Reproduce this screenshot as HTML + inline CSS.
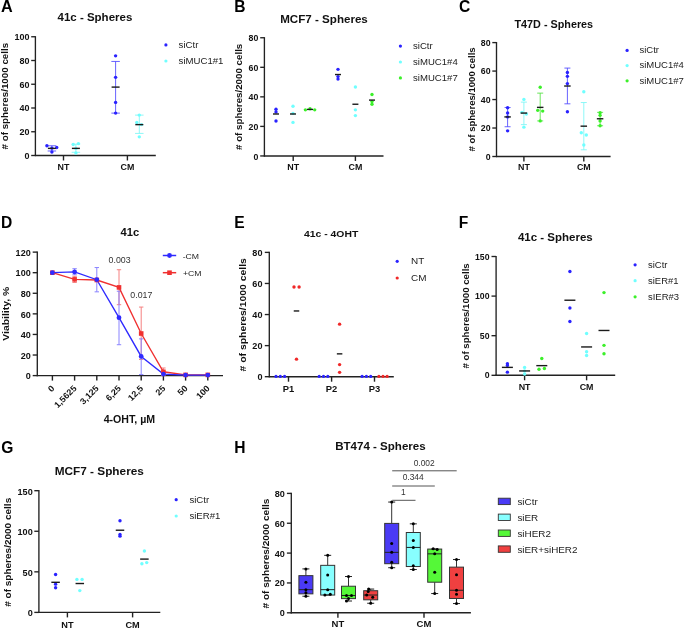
<!DOCTYPE html>
<html><head><meta charset="utf-8"><style>
html,body{margin:0;padding:0;background:#fff;}
svg{display:block;will-change:transform;filter:blur(0.3px);}
text{font-family:"Liberation Sans",sans-serif;}
</style></head><body>
<svg width="685" height="629" viewBox="0 0 685 629">
<rect width="685" height="629" fill="#fff"/>
<text transform="translate(1.1 12.2) scale(1.04 1)" font-size="15.6" font-weight="bold" text-anchor="start" fill="#000">A</text>
<text transform="translate(57.5 20.8)" font-size="11.5" font-weight="bold" text-anchor="start" fill="#111">41c - Spheres</text>
<line x1="35.4" y1="36.15" x2="35.4" y2="156.1" stroke="#222" stroke-width="1.35"/>
<line x1="31.2" y1="155.5" x2="35.4" y2="155.5" stroke="#222" stroke-width="1.35"/>
<text transform="translate(29.4 158.98) scale(1 0.97)" font-size="9" font-weight="bold" text-anchor="end" fill="#111">0</text>
<line x1="31.2" y1="131.75" x2="35.4" y2="131.75" stroke="#222" stroke-width="1.35"/>
<text transform="translate(29.4 135.23) scale(1 0.97)" font-size="9" font-weight="bold" text-anchor="end" fill="#111">20</text>
<line x1="31.2" y1="108" x2="35.4" y2="108" stroke="#222" stroke-width="1.35"/>
<text transform="translate(29.4 111.48) scale(1 0.97)" font-size="9" font-weight="bold" text-anchor="end" fill="#111">40</text>
<line x1="31.2" y1="84.25" x2="35.4" y2="84.25" stroke="#222" stroke-width="1.35"/>
<text transform="translate(29.4 87.73) scale(1 0.97)" font-size="9" font-weight="bold" text-anchor="end" fill="#111">60</text>
<line x1="31.2" y1="60.5" x2="35.4" y2="60.5" stroke="#222" stroke-width="1.35"/>
<text transform="translate(29.4 63.98) scale(1 0.97)" font-size="9" font-weight="bold" text-anchor="end" fill="#111">80</text>
<line x1="31.2" y1="36.75" x2="35.4" y2="36.75" stroke="#222" stroke-width="1.35"/>
<text transform="translate(29.4 40.23) scale(1 0.97)" font-size="9" font-weight="bold" text-anchor="end" fill="#111">100</text>
<line x1="34.8" y1="155.5" x2="155.8" y2="155.5" stroke="#222" stroke-width="1.4"/>
<line x1="63.5" y1="155.5" x2="63.5" y2="160.5" stroke="#222" stroke-width="1.4"/>
<text transform="translate(63.5 170.3)" font-size="8.9" font-weight="bold" text-anchor="middle" fill="#111">NT</text>
<line x1="127.4" y1="155.5" x2="127.4" y2="160.5" stroke="#222" stroke-width="1.4"/>
<text transform="translate(127.4 170.3)" font-size="8.9" font-weight="bold" text-anchor="middle" fill="#111">CM</text>
<text transform="translate(8.4 96.15) rotate(-90) scale(1 0.88)" font-size="9.8" font-weight="bold" text-anchor="middle" fill="#111"># of spheres/1000 cells</text>
<circle cx="165.9" cy="44.9" r="1.6" fill="#2a22ff"/>
<text transform="translate(178.6 47.7) scale(1 0.95)" font-size="9.63" font-weight="normal" text-anchor="start" fill="#222">siCtr</text>
<circle cx="165.9" cy="61" r="1.6" fill="#70ffff"/>
<text transform="translate(178.6 63.8) scale(1 0.95)" font-size="9.63" font-weight="normal" text-anchor="start" fill="#222">siMUC1#1</text>
<line x1="51.9" y1="145.76" x2="51.9" y2="150.99" stroke="#4d47ff" stroke-width="0.85"/>
<line x1="47.65" y1="145.76" x2="56.15" y2="145.76" stroke="#4d47ff" stroke-width="0.85"/>
<line x1="47.65" y1="150.99" x2="56.15" y2="150.99" stroke="#4d47ff" stroke-width="0.85"/>
<circle cx="46.9" cy="145.76" r="1.7" fill="#2a22ff"/>
<circle cx="51.9" cy="148.14" r="1.7" fill="#2a22ff"/>
<circle cx="56.7" cy="147.54" r="1.7" fill="#2a22ff"/>
<circle cx="51.9" cy="151.94" r="1.7" fill="#2a22ff"/>
<line x1="47.9" y1="148.38" x2="55.9" y2="148.38" stroke="#1a1a1a" stroke-width="1.4"/>
<line x1="75.9" y1="144.22" x2="75.9" y2="152.29" stroke="#7af5f5" stroke-width="0.85"/>
<line x1="71.65" y1="144.22" x2="80.15" y2="144.22" stroke="#7af5f5" stroke-width="0.85"/>
<line x1="71.65" y1="152.29" x2="80.15" y2="152.29" stroke="#7af5f5" stroke-width="0.85"/>
<circle cx="73.2" cy="144.46" r="1.7" fill="#70ffff"/>
<circle cx="78.4" cy="143.62" r="1.7" fill="#70ffff"/>
<circle cx="75.9" cy="148.38" r="1.7" fill="#70ffff"/>
<circle cx="75.9" cy="153.01" r="1.7" fill="#70ffff"/>
<line x1="71.9" y1="148.38" x2="79.9" y2="148.38" stroke="#1a1a1a" stroke-width="1.4"/>
<line x1="115.6" y1="61.45" x2="115.6" y2="113.11" stroke="#4d47ff" stroke-width="0.85"/>
<line x1="111.35" y1="61.45" x2="119.85" y2="61.45" stroke="#4d47ff" stroke-width="0.85"/>
<line x1="111.35" y1="113.11" x2="119.85" y2="113.11" stroke="#4d47ff" stroke-width="0.85"/>
<circle cx="115.6" cy="55.87" r="1.7" fill="#2a22ff"/>
<circle cx="115.6" cy="77.36" r="1.7" fill="#2a22ff"/>
<circle cx="115.6" cy="102.42" r="1.7" fill="#2a22ff"/>
<circle cx="115.6" cy="113.11" r="1.7" fill="#2a22ff"/>
<line x1="111.6" y1="87.1" x2="119.6" y2="87.1" stroke="#1a1a1a" stroke-width="1.4"/>
<line x1="139.3" y1="115.12" x2="139.3" y2="133.41" stroke="#7af5f5" stroke-width="0.85"/>
<line x1="135.05" y1="115.12" x2="143.55" y2="115.12" stroke="#7af5f5" stroke-width="0.85"/>
<line x1="135.05" y1="133.41" x2="143.55" y2="133.41" stroke="#7af5f5" stroke-width="0.85"/>
<circle cx="139.3" cy="115.12" r="1.7" fill="#70ffff"/>
<circle cx="136.8" cy="122.49" r="1.7" fill="#70ffff"/>
<circle cx="141.5" cy="124.62" r="1.7" fill="#70ffff"/>
<circle cx="139.3" cy="136.86" r="1.7" fill="#70ffff"/>
<line x1="135.3" y1="124.62" x2="143.3" y2="124.62" stroke="#1a1a1a" stroke-width="1.4"/>
<text transform="translate(234.16 12)" font-size="15.6" font-weight="bold" text-anchor="start" fill="#000">B</text>
<text transform="translate(280.2 22.5)" font-size="11.6" font-weight="bold" text-anchor="start" fill="#111">MCF7 - Spheres</text>
<line x1="264.4" y1="37.15" x2="264.4" y2="156.55" stroke="#222" stroke-width="1.35"/>
<line x1="260.2" y1="155.95" x2="264.4" y2="155.95" stroke="#222" stroke-width="1.35"/>
<text transform="translate(258.4 159.56) scale(1 1.05)" font-size="8.8" font-weight="bold" text-anchor="end" fill="#111">0</text>
<line x1="260.2" y1="126.4" x2="264.4" y2="126.4" stroke="#222" stroke-width="1.35"/>
<text transform="translate(258.4 130.01) scale(1 1.05)" font-size="8.8" font-weight="bold" text-anchor="end" fill="#111">20</text>
<line x1="260.2" y1="96.85" x2="264.4" y2="96.85" stroke="#222" stroke-width="1.35"/>
<text transform="translate(258.4 100.46) scale(1 1.05)" font-size="8.8" font-weight="bold" text-anchor="end" fill="#111">40</text>
<line x1="260.2" y1="67.3" x2="264.4" y2="67.3" stroke="#222" stroke-width="1.35"/>
<text transform="translate(258.4 70.91) scale(1 1.05)" font-size="8.8" font-weight="bold" text-anchor="end" fill="#111">60</text>
<line x1="260.2" y1="37.75" x2="264.4" y2="37.75" stroke="#222" stroke-width="1.35"/>
<text transform="translate(258.4 41.36) scale(1 1.05)" font-size="8.8" font-weight="bold" text-anchor="end" fill="#111">80</text>
<line x1="263.8" y1="155.95" x2="383.5" y2="155.95" stroke="#222" stroke-width="1.4"/>
<line x1="293.2" y1="155.95" x2="293.2" y2="160.95" stroke="#222" stroke-width="1.4"/>
<text transform="translate(293.2 170.3)" font-size="8.9" font-weight="bold" text-anchor="middle" fill="#111">NT</text>
<line x1="355.4" y1="155.95" x2="355.4" y2="160.95" stroke="#222" stroke-width="1.4"/>
<text transform="translate(355.4 170.3)" font-size="8.9" font-weight="bold" text-anchor="middle" fill="#111">CM</text>
<text transform="translate(242.1 96.85) rotate(-90) scale(1 0.88)" font-size="9.77" font-weight="bold" text-anchor="middle" fill="#111"># of spheres/2000 cells</text>
<circle cx="400.4" cy="46.1" r="1.6" fill="#2a22ff"/>
<text transform="translate(413 48.9) scale(1 0.95)" font-size="9.59" font-weight="normal" text-anchor="start" fill="#222">siCtr</text>
<circle cx="400.4" cy="62" r="1.6" fill="#70ffff"/>
<text transform="translate(413 64.8) scale(1 0.95)" font-size="9.59" font-weight="normal" text-anchor="start" fill="#222">siMUC1#4</text>
<circle cx="400.4" cy="77.9" r="1.6" fill="#3cf02a"/>
<text transform="translate(413 80.7) scale(1 0.95)" font-size="9.59" font-weight="normal" text-anchor="start" fill="#222">siMUC1#7</text>
<circle cx="276" cy="109.26" r="1.7" fill="#2a22ff"/>
<circle cx="276" cy="111.92" r="1.7" fill="#2a22ff"/>
<circle cx="276" cy="120.93" r="1.7" fill="#2a22ff"/>
<line x1="273" y1="113.99" x2="279" y2="113.99" stroke="#1a1a1a" stroke-width="1.4"/>
<circle cx="293" cy="106.31" r="1.7" fill="#70ffff"/>
<circle cx="293" cy="113.4" r="1.7" fill="#70ffff"/>
<circle cx="293" cy="122.41" r="1.7" fill="#70ffff"/>
<line x1="290" y1="113.99" x2="296" y2="113.99" stroke="#1a1a1a" stroke-width="1.4"/>
<circle cx="305.4" cy="109.85" r="1.7" fill="#3cf02a"/>
<circle cx="310" cy="108.82" r="1.7" fill="#3cf02a"/>
<circle cx="314.7" cy="109.85" r="1.7" fill="#3cf02a"/>
<line x1="307" y1="109.41" x2="313" y2="109.41" stroke="#1a1a1a" stroke-width="1.4"/>
<circle cx="338" cy="69.37" r="1.7" fill="#2a22ff"/>
<circle cx="338" cy="76.61" r="1.7" fill="#2a22ff"/>
<circle cx="338" cy="79.12" r="1.7" fill="#2a22ff"/>
<line x1="335" y1="74.54" x2="341" y2="74.54" stroke="#1a1a1a" stroke-width="1.4"/>
<circle cx="355.4" cy="86.95" r="1.7" fill="#70ffff"/>
<circle cx="355.4" cy="109.85" r="1.7" fill="#70ffff"/>
<circle cx="355.4" cy="115.61" r="1.7" fill="#70ffff"/>
<line x1="352.4" y1="104.24" x2="358.4" y2="104.24" stroke="#1a1a1a" stroke-width="1.4"/>
<circle cx="372" cy="94.49" r="1.7" fill="#3cf02a"/>
<circle cx="372" cy="101.58" r="1.7" fill="#3cf02a"/>
<circle cx="372" cy="104.24" r="1.7" fill="#3cf02a"/>
<line x1="369" y1="100.1" x2="375" y2="100.1" stroke="#1a1a1a" stroke-width="1.4"/>
<text transform="translate(458.9 12)" font-size="15.6" font-weight="bold" text-anchor="start" fill="#000">C</text>
<text transform="translate(514.5 27.6)" font-size="10.8" font-weight="bold" text-anchor="start" fill="#111">T47D - Spheres</text>
<line x1="496.5" y1="42" x2="496.5" y2="157.1" stroke="#222" stroke-width="1.35"/>
<line x1="492.3" y1="156.5" x2="496.5" y2="156.5" stroke="#222" stroke-width="1.35"/>
<text transform="translate(490.5 159.83)" font-size="8.75" font-weight="bold" text-anchor="end" fill="#111">0</text>
<line x1="492.3" y1="128.02" x2="496.5" y2="128.02" stroke="#222" stroke-width="1.35"/>
<text transform="translate(490.5 131.36)" font-size="8.75" font-weight="bold" text-anchor="end" fill="#111">20</text>
<line x1="492.3" y1="99.55" x2="496.5" y2="99.55" stroke="#222" stroke-width="1.35"/>
<text transform="translate(490.5 102.88)" font-size="8.75" font-weight="bold" text-anchor="end" fill="#111">40</text>
<line x1="492.3" y1="71.07" x2="496.5" y2="71.07" stroke="#222" stroke-width="1.35"/>
<text transform="translate(490.5 74.4)" font-size="8.75" font-weight="bold" text-anchor="end" fill="#111">60</text>
<line x1="492.3" y1="42.6" x2="496.5" y2="42.6" stroke="#222" stroke-width="1.35"/>
<text transform="translate(490.5 45.93)" font-size="8.75" font-weight="bold" text-anchor="end" fill="#111">80</text>
<line x1="495.9" y1="156.5" x2="610.6" y2="156.5" stroke="#222" stroke-width="1.4"/>
<line x1="523.9" y1="156.5" x2="523.9" y2="161.5" stroke="#222" stroke-width="1.4"/>
<text transform="translate(523.9 170.3)" font-size="8.9" font-weight="bold" text-anchor="middle" fill="#111">NT</text>
<line x1="583.8" y1="156.5" x2="583.8" y2="161.5" stroke="#222" stroke-width="1.4"/>
<text transform="translate(583.8 170.3)" font-size="8.9" font-weight="bold" text-anchor="middle" fill="#111">CM</text>
<text transform="translate(475.1 99.45) rotate(-90) scale(1 0.88)" font-size="9.57" font-weight="bold" text-anchor="middle" fill="#111"># of spheres/1000 cells</text>
<circle cx="627.1" cy="50.4" r="1.6" fill="#2a22ff"/>
<text transform="translate(639.4 53.1) scale(1 0.95)" font-size="9.53" font-weight="normal" text-anchor="start" fill="#222">siCtr</text>
<circle cx="627.1" cy="65.6" r="1.6" fill="#70ffff"/>
<text transform="translate(639.4 68.3) scale(1 0.95)" font-size="9.53" font-weight="normal" text-anchor="start" fill="#222">siMUC1#4</text>
<circle cx="627.1" cy="80.8" r="1.6" fill="#3cf02a"/>
<text transform="translate(639.4 83.5) scale(1 0.95)" font-size="9.53" font-weight="normal" text-anchor="start" fill="#222">siMUC1#7</text>
<line x1="507.6" y1="107.52" x2="507.6" y2="126.74" stroke="#4d47ff" stroke-width="0.85"/>
<line x1="504.6" y1="107.52" x2="510.6" y2="107.52" stroke="#4d47ff" stroke-width="0.85"/>
<line x1="504.6" y1="126.74" x2="510.6" y2="126.74" stroke="#4d47ff" stroke-width="0.85"/>
<circle cx="507.6" cy="107.81" r="1.7" fill="#2a22ff"/>
<circle cx="507.6" cy="113.07" r="1.7" fill="#2a22ff"/>
<circle cx="507.6" cy="116.92" r="1.7" fill="#2a22ff"/>
<circle cx="507.6" cy="130.87" r="1.7" fill="#2a22ff"/>
<line x1="504.35" y1="116.92" x2="510.85" y2="116.92" stroke="#1a1a1a" stroke-width="1.4"/>
<line x1="523.9" y1="102.11" x2="523.9" y2="124.61" stroke="#7af5f5" stroke-width="0.85"/>
<line x1="520.9" y1="102.11" x2="526.9" y2="102.11" stroke="#7af5f5" stroke-width="0.85"/>
<line x1="520.9" y1="124.61" x2="526.9" y2="124.61" stroke="#7af5f5" stroke-width="0.85"/>
<circle cx="523.9" cy="99.41" r="1.7" fill="#70ffff"/>
<circle cx="521.9" cy="112.36" r="1.7" fill="#70ffff"/>
<circle cx="526.4" cy="113.93" r="1.7" fill="#70ffff"/>
<circle cx="523.9" cy="127.17" r="1.7" fill="#70ffff"/>
<line x1="520.65" y1="113.07" x2="527.15" y2="113.07" stroke="#1a1a1a" stroke-width="1.4"/>
<line x1="540.2" y1="93.14" x2="540.2" y2="120.91" stroke="#52e040" stroke-width="0.85"/>
<line x1="537.2" y1="93.14" x2="543.2" y2="93.14" stroke="#52e040" stroke-width="0.85"/>
<line x1="537.2" y1="120.91" x2="543.2" y2="120.91" stroke="#52e040" stroke-width="0.85"/>
<circle cx="540.2" cy="87.3" r="1.7" fill="#3cf02a"/>
<circle cx="537.7" cy="110.37" r="1.7" fill="#3cf02a"/>
<circle cx="542.7" cy="111.08" r="1.7" fill="#3cf02a"/>
<circle cx="540.2" cy="120.91" r="1.7" fill="#3cf02a"/>
<line x1="536.95" y1="107.38" x2="543.45" y2="107.38" stroke="#1a1a1a" stroke-width="1.4"/>
<line x1="567.4" y1="68.08" x2="567.4" y2="103.82" stroke="#4d47ff" stroke-width="0.85"/>
<line x1="564.4" y1="68.08" x2="570.4" y2="68.08" stroke="#4d47ff" stroke-width="0.85"/>
<line x1="564.4" y1="103.82" x2="570.4" y2="103.82" stroke="#4d47ff" stroke-width="0.85"/>
<circle cx="567.4" cy="72.5" r="1.7" fill="#2a22ff"/>
<circle cx="567.4" cy="76.34" r="1.7" fill="#2a22ff"/>
<circle cx="567.4" cy="83.6" r="1.7" fill="#2a22ff"/>
<circle cx="567.4" cy="111.79" r="1.7" fill="#2a22ff"/>
<line x1="564.15" y1="86.02" x2="570.65" y2="86.02" stroke="#1a1a1a" stroke-width="1.4"/>
<line x1="583.8" y1="102.54" x2="583.8" y2="149.81" stroke="#7af5f5" stroke-width="0.85"/>
<line x1="580.8" y1="102.54" x2="586.8" y2="102.54" stroke="#7af5f5" stroke-width="0.85"/>
<line x1="580.8" y1="149.81" x2="586.8" y2="149.81" stroke="#7af5f5" stroke-width="0.85"/>
<circle cx="583.8" cy="91.72" r="1.7" fill="#70ffff"/>
<circle cx="581.3" cy="132.72" r="1.7" fill="#70ffff"/>
<circle cx="586.3" cy="135" r="1.7" fill="#70ffff"/>
<circle cx="583.8" cy="144.97" r="1.7" fill="#70ffff"/>
<line x1="580.55" y1="126.17" x2="587.05" y2="126.17" stroke="#1a1a1a" stroke-width="1.4"/>
<line x1="600.1" y1="112.36" x2="600.1" y2="125.75" stroke="#52e040" stroke-width="0.85"/>
<line x1="597.1" y1="112.36" x2="603.1" y2="112.36" stroke="#52e040" stroke-width="0.85"/>
<line x1="597.1" y1="125.75" x2="603.1" y2="125.75" stroke="#52e040" stroke-width="0.85"/>
<circle cx="600.1" cy="112.65" r="1.7" fill="#3cf02a"/>
<circle cx="600.1" cy="115.35" r="1.7" fill="#3cf02a"/>
<circle cx="600.1" cy="120.91" r="1.7" fill="#3cf02a"/>
<circle cx="600.1" cy="125.75" r="1.7" fill="#3cf02a"/>
<line x1="596.85" y1="118.77" x2="603.35" y2="118.77" stroke="#1a1a1a" stroke-width="1.4"/>
<text transform="translate(0.9 228.2)" font-size="15.6" font-weight="bold" text-anchor="start" fill="#000">D</text>
<text transform="translate(129.9 235.6)" font-size="11.2" font-weight="bold" text-anchor="middle" fill="#111">41c</text>
<line x1="37.3" y1="251.52" x2="37.3" y2="376.2" stroke="#222" stroke-width="1.35"/>
<line x1="32.7" y1="375.6" x2="37.3" y2="375.6" stroke="#222" stroke-width="1.35"/>
<text transform="translate(30.7 379.26) scale(1 1.1)" font-size="9.05" font-weight="bold" text-anchor="end" fill="#111">0</text>
<line x1="32.7" y1="355.02" x2="37.3" y2="355.02" stroke="#222" stroke-width="1.35"/>
<text transform="translate(30.7 358.68) scale(1 1.1)" font-size="9.05" font-weight="bold" text-anchor="end" fill="#111">20</text>
<line x1="32.7" y1="334.44" x2="37.3" y2="334.44" stroke="#222" stroke-width="1.35"/>
<text transform="translate(30.7 338.1) scale(1 1.1)" font-size="9.05" font-weight="bold" text-anchor="end" fill="#111">40</text>
<line x1="32.7" y1="313.86" x2="37.3" y2="313.86" stroke="#222" stroke-width="1.35"/>
<text transform="translate(30.7 317.52) scale(1 1.1)" font-size="9.05" font-weight="bold" text-anchor="end" fill="#111">60</text>
<line x1="32.7" y1="293.28" x2="37.3" y2="293.28" stroke="#222" stroke-width="1.35"/>
<text transform="translate(30.7 296.94) scale(1 1.1)" font-size="9.05" font-weight="bold" text-anchor="end" fill="#111">80</text>
<line x1="32.7" y1="272.7" x2="37.3" y2="272.7" stroke="#222" stroke-width="1.35"/>
<text transform="translate(30.7 276.36) scale(1 1.1)" font-size="9.05" font-weight="bold" text-anchor="end" fill="#111">100</text>
<line x1="32.7" y1="252.12" x2="37.3" y2="252.12" stroke="#222" stroke-width="1.35"/>
<text transform="translate(30.7 255.78) scale(1 1.1)" font-size="9.05" font-weight="bold" text-anchor="end" fill="#111">120</text>
<line x1="36.7" y1="375.6" x2="223" y2="375.6" stroke="#222" stroke-width="1.4"/>
<line x1="52.4" y1="375.6" x2="52.4" y2="380.6" stroke="#222" stroke-width="1.4"/>
<line x1="74.6" y1="375.6" x2="74.6" y2="380.6" stroke="#222" stroke-width="1.4"/>
<line x1="96.8" y1="375.6" x2="96.8" y2="380.6" stroke="#222" stroke-width="1.4"/>
<line x1="119" y1="375.6" x2="119" y2="380.6" stroke="#222" stroke-width="1.4"/>
<line x1="141.2" y1="375.6" x2="141.2" y2="380.6" stroke="#222" stroke-width="1.4"/>
<line x1="163.4" y1="375.6" x2="163.4" y2="380.6" stroke="#222" stroke-width="1.4"/>
<line x1="185.6" y1="375.6" x2="185.6" y2="380.6" stroke="#222" stroke-width="1.4"/>
<line x1="207.8" y1="375.6" x2="207.8" y2="380.6" stroke="#222" stroke-width="1.4"/>
<text transform="translate(55 389) rotate(-45) scale(1 0.97)" font-size="9" font-weight="bold" text-anchor="end" fill="#111">0</text>
<text transform="translate(77.2 389) rotate(-45) scale(1 0.97)" font-size="9" font-weight="bold" text-anchor="end" fill="#111">1,5625</text>
<text transform="translate(99.4 389) rotate(-45) scale(1 0.97)" font-size="9" font-weight="bold" text-anchor="end" fill="#111">3,125</text>
<text transform="translate(121.6 389) rotate(-45) scale(1 0.97)" font-size="9" font-weight="bold" text-anchor="end" fill="#111">6,25</text>
<text transform="translate(143.8 389) rotate(-45) scale(1 0.97)" font-size="9" font-weight="bold" text-anchor="end" fill="#111">12,5</text>
<text transform="translate(166 389) rotate(-45) scale(1 0.97)" font-size="9" font-weight="bold" text-anchor="end" fill="#111">25</text>
<text transform="translate(188.2 389) rotate(-45) scale(1 0.97)" font-size="9" font-weight="bold" text-anchor="end" fill="#111">50</text>
<text transform="translate(210.4 389) rotate(-45) scale(1 0.97)" font-size="9" font-weight="bold" text-anchor="end" fill="#111">100</text>
<text transform="translate(129.4 423.4)" font-size="10.6" font-weight="bold" text-anchor="middle" fill="#111">4-OHT, µM</text>
<text transform="translate(8.9 313.7) rotate(-90) scale(1 0.95)" font-size="10.4" font-weight="bold" text-anchor="middle" fill="#111">Viability, %</text>
<line x1="74.6" y1="276.3" x2="74.6" y2="282.48" stroke="#f58080" stroke-width="1"/>
<line x1="72.4" y1="276.3" x2="76.8" y2="276.3" stroke="#f58080" stroke-width="1"/>
<line x1="72.4" y1="282.48" x2="76.8" y2="282.48" stroke="#f58080" stroke-width="1"/>
<line x1="74.6" y1="268.69" x2="74.6" y2="274.76" stroke="#8a84ff" stroke-width="1"/>
<line x1="72.4" y1="268.69" x2="76.8" y2="268.69" stroke="#8a84ff" stroke-width="1"/>
<line x1="72.4" y1="274.76" x2="76.8" y2="274.76" stroke="#8a84ff" stroke-width="1"/>
<line x1="96.8" y1="267.56" x2="96.8" y2="291.84" stroke="#8a84ff" stroke-width="1"/>
<line x1="94.6" y1="267.56" x2="99" y2="267.56" stroke="#8a84ff" stroke-width="1"/>
<line x1="94.6" y1="291.84" x2="99" y2="291.84" stroke="#8a84ff" stroke-width="1"/>
<line x1="119" y1="269.72" x2="119" y2="304.7" stroke="#f58080" stroke-width="1"/>
<line x1="116.8" y1="269.72" x2="121.2" y2="269.72" stroke="#f58080" stroke-width="1"/>
<line x1="116.8" y1="304.7" x2="121.2" y2="304.7" stroke="#f58080" stroke-width="1"/>
<line x1="119" y1="291.22" x2="119" y2="344.73" stroke="#8a84ff" stroke-width="1"/>
<line x1="116.8" y1="291.22" x2="121.2" y2="291.22" stroke="#8a84ff" stroke-width="1"/>
<line x1="116.8" y1="344.73" x2="121.2" y2="344.73" stroke="#8a84ff" stroke-width="1"/>
<line x1="141.2" y1="307.07" x2="141.2" y2="359.44" stroke="#f58080" stroke-width="1"/>
<line x1="139" y1="307.07" x2="143.4" y2="307.07" stroke="#f58080" stroke-width="1"/>
<line x1="139" y1="359.44" x2="143.4" y2="359.44" stroke="#f58080" stroke-width="1"/>
<line x1="141.2" y1="338.86" x2="141.2" y2="374.57" stroke="#8a84ff" stroke-width="1"/>
<line x1="139" y1="338.86" x2="143.4" y2="338.86" stroke="#8a84ff" stroke-width="1"/>
<line x1="139" y1="374.57" x2="143.4" y2="374.57" stroke="#8a84ff" stroke-width="1"/>
<line x1="163.4" y1="367.99" x2="163.4" y2="375.6" stroke="#f58080" stroke-width="1"/>
<line x1="161.2" y1="367.99" x2="165.6" y2="367.99" stroke="#f58080" stroke-width="1"/>
<line x1="161.2" y1="375.6" x2="165.6" y2="375.6" stroke="#f58080" stroke-width="1"/>
<polyline points="52.4,272.7 74.6,279.39 96.8,280.01 119,287.41 141.2,333.51 163.4,371.79 185.6,374.88 207.8,374.88" fill="none" stroke="#f03030" stroke-width="1.35"/>
<polyline points="52.4,272.7 74.6,271.88 96.8,279.7 119,317.67 141.2,356.46 163.4,374.06 185.6,375.09 207.8,375.09" fill="none" stroke="#2f2aff" stroke-width="1.35"/>
<rect x="50.1" y="270.4" width="4.6" height="4.6" fill="#f03030"/>
<rect x="72.3" y="277.09" width="4.6" height="4.6" fill="#f03030"/>
<rect x="94.5" y="277.71" width="4.6" height="4.6" fill="#f03030"/>
<rect x="116.7" y="285.11" width="4.6" height="4.6" fill="#f03030"/>
<rect x="138.9" y="331.21" width="4.6" height="4.6" fill="#f03030"/>
<rect x="161.1" y="369.49" width="4.6" height="4.6" fill="#f03030"/>
<rect x="183.3" y="372.58" width="4.6" height="4.6" fill="#f03030"/>
<rect x="205.5" y="372.58" width="4.6" height="4.6" fill="#f03030"/>
<circle cx="52.4" cy="272.7" r="2.4" fill="#2f2aff"/>
<circle cx="74.6" cy="271.88" r="2.4" fill="#2f2aff"/>
<circle cx="96.8" cy="279.7" r="2.4" fill="#2f2aff"/>
<circle cx="119" cy="317.67" r="2.4" fill="#2f2aff"/>
<circle cx="141.2" cy="356.46" r="2.4" fill="#2f2aff"/>
<circle cx="163.4" cy="374.06" r="2.4" fill="#2f2aff"/>
<circle cx="185.6" cy="375.09" r="2.4" fill="#2f2aff"/>
<circle cx="207.8" cy="375.09" r="2.4" fill="#2f2aff"/>
<text transform="translate(119.55 263)" font-size="8.8" font-weight="normal" text-anchor="middle" fill="#333">0.003</text>
<text transform="translate(141.3 297.9)" font-size="8.8" font-weight="normal" text-anchor="middle" fill="#333">0.017</text>
<line x1="162.8" y1="255.5" x2="176.2" y2="255.5" stroke="#2f2aff" stroke-width="1.5"/>
<circle cx="169.5" cy="255.5" r="2.4" fill="#2f2aff"/>
<line x1="162.8" y1="272.7" x2="176.2" y2="272.7" stroke="#f03030" stroke-width="1.5"/>
<rect x="167.2" y="270.4" width="4.6" height="4.6" fill="#f03030"/>
<text transform="translate(182.7 258.9) scale(1 0.93)" font-size="8.7" font-weight="normal" text-anchor="start" fill="#222">-CM</text>
<text transform="translate(183 276.1) scale(1 0.93)" font-size="8.7" font-weight="normal" text-anchor="start" fill="#222">+CM</text>
<text transform="translate(234.16 227.9)" font-size="15.6" font-weight="bold" text-anchor="start" fill="#000">E</text>
<text transform="translate(304 236.8) scale(1 0.92)" font-size="10.4" font-weight="bold" text-anchor="start" fill="#111">41c - 4OHT</text>
<line x1="269.3" y1="251.78" x2="269.3" y2="377.3" stroke="#222" stroke-width="1.35"/>
<line x1="264.8" y1="376.7" x2="269.3" y2="376.7" stroke="#222" stroke-width="1.35"/>
<text transform="translate(262.5 380.32) scale(1 1.08)" font-size="9.1" font-weight="bold" text-anchor="end" fill="#111">0</text>
<line x1="264.8" y1="345.62" x2="269.3" y2="345.62" stroke="#222" stroke-width="1.35"/>
<text transform="translate(262.5 349.24) scale(1 1.08)" font-size="9.1" font-weight="bold" text-anchor="end" fill="#111">20</text>
<line x1="264.8" y1="314.54" x2="269.3" y2="314.54" stroke="#222" stroke-width="1.35"/>
<text transform="translate(262.5 318.16) scale(1 1.08)" font-size="9.1" font-weight="bold" text-anchor="end" fill="#111">40</text>
<line x1="264.8" y1="283.46" x2="269.3" y2="283.46" stroke="#222" stroke-width="1.35"/>
<text transform="translate(262.5 287.08) scale(1 1.08)" font-size="9.1" font-weight="bold" text-anchor="end" fill="#111">60</text>
<line x1="264.8" y1="252.38" x2="269.3" y2="252.38" stroke="#222" stroke-width="1.35"/>
<text transform="translate(262.5 256) scale(1 1.08)" font-size="9.1" font-weight="bold" text-anchor="end" fill="#111">80</text>
<line x1="268.7" y1="376.7" x2="393.8" y2="376.7" stroke="#222" stroke-width="1.4"/>
<line x1="288.5" y1="376.7" x2="288.5" y2="381.7" stroke="#222" stroke-width="1.4"/>
<text transform="translate(288.5 392.1)" font-size="9.4" font-weight="bold" text-anchor="middle" fill="#111">P1</text>
<line x1="331.6" y1="376.7" x2="331.6" y2="381.7" stroke="#222" stroke-width="1.4"/>
<text transform="translate(331.6 392.1)" font-size="9.4" font-weight="bold" text-anchor="middle" fill="#111">P2</text>
<line x1="374.5" y1="376.7" x2="374.5" y2="381.7" stroke="#222" stroke-width="1.4"/>
<text transform="translate(374.5 392.1)" font-size="9.4" font-weight="bold" text-anchor="middle" fill="#111">P3</text>
<text transform="translate(245.9 314.75) rotate(-90) scale(1 0.88)" font-size="10.42" font-weight="bold" text-anchor="middle" fill="#111"># of spheres/1000 cells</text>
<circle cx="397.2" cy="261.3" r="1.6" fill="#2a22ff"/>
<text transform="translate(411 264.1)" font-size="9.94" font-weight="normal" text-anchor="start" fill="#222">NT</text>
<circle cx="397.2" cy="278" r="1.6" fill="#f02828"/>
<text transform="translate(411 280.8)" font-size="9.94" font-weight="normal" text-anchor="start" fill="#222">CM</text>
<circle cx="276" cy="376.4" r="1.6" fill="#2a22ff"/>
<circle cx="280.3" cy="376.4" r="1.6" fill="#2a22ff"/>
<circle cx="284.6" cy="376.4" r="1.6" fill="#2a22ff"/>
<circle cx="319.2" cy="376.4" r="1.6" fill="#2a22ff"/>
<circle cx="323.5" cy="376.4" r="1.6" fill="#2a22ff"/>
<circle cx="327.8" cy="376.4" r="1.6" fill="#2a22ff"/>
<circle cx="362.1" cy="376.4" r="1.6" fill="#2a22ff"/>
<circle cx="366.4" cy="376.4" r="1.6" fill="#2a22ff"/>
<circle cx="370.7" cy="376.4" r="1.6" fill="#2a22ff"/>
<circle cx="294" cy="287.03" r="1.7" fill="#f02828"/>
<circle cx="299.1" cy="287.03" r="1.7" fill="#f02828"/>
<circle cx="296.5" cy="359.14" r="1.7" fill="#f02828"/>
<line x1="293.75" y1="310.97" x2="299.25" y2="310.97" stroke="#1a1a1a" stroke-width="1.4"/>
<circle cx="339.6" cy="324.17" r="1.7" fill="#f02828"/>
<circle cx="339.6" cy="364.58" r="1.7" fill="#f02828"/>
<circle cx="339.6" cy="372.35" r="1.7" fill="#f02828"/>
<line x1="336.85" y1="353.86" x2="342.35" y2="353.86" stroke="#1a1a1a" stroke-width="1.4"/>
<circle cx="378.9" cy="376.4" r="1.6" fill="#f02828"/>
<circle cx="383" cy="376.4" r="1.6" fill="#f02828"/>
<circle cx="387.1" cy="376.4" r="1.6" fill="#f02828"/>
<text transform="translate(458.86 227.9)" font-size="15.6" font-weight="bold" text-anchor="start" fill="#000">F</text>
<text transform="translate(517.9 240.8)" font-size="11.5" font-weight="bold" text-anchor="start" fill="#111">41c - Spheres</text>
<line x1="496.1" y1="255.9" x2="496.1" y2="375.9" stroke="#222" stroke-width="1.35"/>
<line x1="491.5" y1="375.3" x2="496.1" y2="375.3" stroke="#222" stroke-width="1.35"/>
<text transform="translate(489.5 378.45) scale(1 0.98)" font-size="8.7" font-weight="bold" text-anchor="end" fill="#111">0</text>
<line x1="491.5" y1="335.7" x2="496.1" y2="335.7" stroke="#222" stroke-width="1.35"/>
<text transform="translate(489.5 338.85) scale(1 0.98)" font-size="8.7" font-weight="bold" text-anchor="end" fill="#111">50</text>
<line x1="491.5" y1="296.1" x2="496.1" y2="296.1" stroke="#222" stroke-width="1.35"/>
<text transform="translate(489.5 299.25) scale(1 0.98)" font-size="8.7" font-weight="bold" text-anchor="end" fill="#111">100</text>
<line x1="491.5" y1="256.5" x2="496.1" y2="256.5" stroke="#222" stroke-width="1.35"/>
<text transform="translate(489.5 259.65) scale(1 0.98)" font-size="8.7" font-weight="bold" text-anchor="end" fill="#111">150</text>
<line x1="495.5" y1="375.3" x2="615.2" y2="375.3" stroke="#222" stroke-width="1.4"/>
<line x1="524.6" y1="375.3" x2="524.6" y2="380.3" stroke="#222" stroke-width="1.4"/>
<text transform="translate(524.6 389.5)" font-size="8.9" font-weight="bold" text-anchor="middle" fill="#111">NT</text>
<line x1="586.6" y1="375.3" x2="586.6" y2="380.3" stroke="#222" stroke-width="1.4"/>
<text transform="translate(586.6 389.5)" font-size="8.9" font-weight="bold" text-anchor="middle" fill="#111">CM</text>
<text transform="translate(468.5 315.9) rotate(-90) scale(1 0.88)" font-size="9.67" font-weight="bold" text-anchor="middle" fill="#111"># of spheres/1000 cells</text>
<circle cx="635.1" cy="264.8" r="1.6" fill="#2a22ff"/>
<text transform="translate(648 267.7) scale(1 0.95)" font-size="9.48" font-weight="normal" text-anchor="start" fill="#222">siCtr</text>
<circle cx="635.1" cy="280.7" r="1.6" fill="#70ffff"/>
<text transform="translate(648 283.6) scale(1 0.95)" font-size="9.48" font-weight="normal" text-anchor="start" fill="#222">siER#1</text>
<circle cx="635.1" cy="296.8" r="1.6" fill="#3cf02a"/>
<text transform="translate(648 299.7) scale(1 0.95)" font-size="9.48" font-weight="normal" text-anchor="start" fill="#222">sIER#3</text>
<circle cx="507.4" cy="363.74" r="1.7" fill="#2a22ff"/>
<circle cx="507.4" cy="365.4" r="1.7" fill="#2a22ff"/>
<circle cx="507.4" cy="372.13" r="1.7" fill="#2a22ff"/>
<line x1="501.9" y1="367.38" x2="512.9" y2="367.38" stroke="#1a1a1a" stroke-width="1.4"/>
<circle cx="524.6" cy="367.38" r="1.7" fill="#70ffff"/>
<circle cx="524.6" cy="370.94" r="1.7" fill="#70ffff"/>
<circle cx="524.6" cy="374.11" r="1.7" fill="#70ffff"/>
<line x1="519.1" y1="370.94" x2="530.1" y2="370.94" stroke="#1a1a1a" stroke-width="1.4"/>
<circle cx="541.8" cy="358.43" r="1.7" fill="#3cf02a"/>
<circle cx="539" cy="369.28" r="1.7" fill="#3cf02a"/>
<circle cx="544.4" cy="368.57" r="1.7" fill="#3cf02a"/>
<line x1="536.3" y1="365.64" x2="547.3" y2="365.64" stroke="#1a1a1a" stroke-width="1.4"/>
<circle cx="569.9" cy="271.55" r="1.7" fill="#2a22ff"/>
<circle cx="569.9" cy="307.98" r="1.7" fill="#2a22ff"/>
<circle cx="569.9" cy="321.44" r="1.7" fill="#2a22ff"/>
<line x1="564.4" y1="300.22" x2="575.4" y2="300.22" stroke="#1a1a1a" stroke-width="1.4"/>
<circle cx="586.6" cy="333.56" r="1.7" fill="#70ffff"/>
<circle cx="586.6" cy="351.78" r="1.7" fill="#70ffff"/>
<circle cx="586.6" cy="355.5" r="1.7" fill="#70ffff"/>
<line x1="581.1" y1="346.95" x2="592.1" y2="346.95" stroke="#1a1a1a" stroke-width="1.4"/>
<circle cx="604" cy="292.62" r="1.7" fill="#3cf02a"/>
<circle cx="604" cy="345.36" r="1.7" fill="#3cf02a"/>
<circle cx="604" cy="353.68" r="1.7" fill="#3cf02a"/>
<line x1="598.5" y1="330.47" x2="609.5" y2="330.47" stroke="#1a1a1a" stroke-width="1.4"/>
<text transform="translate(1.3 452.7)" font-size="15.6" font-weight="bold" text-anchor="start" fill="#000">G</text>
<text transform="translate(54.7 475.3)" font-size="11.8" font-weight="bold" text-anchor="start" fill="#111">MCF7 - Spheres</text>
<line x1="38.9" y1="490.1" x2="38.9" y2="613" stroke="#222" stroke-width="1.35"/>
<line x1="34.3" y1="612.4" x2="38.9" y2="612.4" stroke="#222" stroke-width="1.35"/>
<text transform="translate(32.7 616.32) scale(1 1.08)" font-size="9.1" font-weight="bold" text-anchor="end" fill="#111">0</text>
<line x1="34.3" y1="571.84" x2="38.9" y2="571.84" stroke="#222" stroke-width="1.35"/>
<text transform="translate(32.7 575.75) scale(1 1.08)" font-size="9.1" font-weight="bold" text-anchor="end" fill="#111">50</text>
<line x1="34.3" y1="531.27" x2="38.9" y2="531.27" stroke="#222" stroke-width="1.35"/>
<text transform="translate(32.7 535.19) scale(1 1.08)" font-size="9.1" font-weight="bold" text-anchor="end" fill="#111">100</text>
<line x1="34.3" y1="490.7" x2="38.9" y2="490.7" stroke="#222" stroke-width="1.35"/>
<text transform="translate(32.7 494.62) scale(1 1.08)" font-size="9.1" font-weight="bold" text-anchor="end" fill="#111">150</text>
<line x1="38.3" y1="612.4" x2="160.3" y2="612.4" stroke="#222" stroke-width="1.4"/>
<line x1="67.4" y1="612.4" x2="67.4" y2="617.4" stroke="#222" stroke-width="1.4"/>
<text transform="translate(67.4 628)" font-size="9.2" font-weight="bold" text-anchor="middle" fill="#111">NT</text>
<line x1="132.6" y1="612.4" x2="132.6" y2="617.4" stroke="#222" stroke-width="1.4"/>
<text transform="translate(132.6 628)" font-size="9.2" font-weight="bold" text-anchor="middle" fill="#111">CM</text>
<text transform="translate(10.8 552.3) rotate(-90) scale(1 0.88)" font-size="10.02" font-weight="bold" text-anchor="middle" fill="#111"># of spheres/2000 cells</text>
<circle cx="176.2" cy="499.7" r="1.6" fill="#2a22ff"/>
<text transform="translate(189.4 502.7) scale(1 0.95)" font-size="9.63" font-weight="normal" text-anchor="start" fill="#222">siCtr</text>
<circle cx="176.2" cy="516" r="1.6" fill="#70ffff"/>
<text transform="translate(189.4 519) scale(1 0.95)" font-size="9.63" font-weight="normal" text-anchor="start" fill="#222">siER#1</text>
<circle cx="55.6" cy="574.43" r="1.7" fill="#2a22ff"/>
<circle cx="55.6" cy="584.17" r="1.7" fill="#2a22ff"/>
<circle cx="55.6" cy="587.74" r="1.7" fill="#2a22ff"/>
<line x1="51.35" y1="582.3" x2="59.85" y2="582.3" stroke="#1a1a1a" stroke-width="1.4"/>
<circle cx="76.9" cy="579.38" r="1.7" fill="#70ffff"/>
<circle cx="82.1" cy="579.38" r="1.7" fill="#70ffff"/>
<circle cx="79.8" cy="590.58" r="1.7" fill="#70ffff"/>
<line x1="75.55" y1="583.52" x2="84.05" y2="583.52" stroke="#1a1a1a" stroke-width="1.4"/>
<circle cx="120" cy="520.72" r="1.7" fill="#2a22ff"/>
<circle cx="120" cy="534.52" r="1.7" fill="#2a22ff"/>
<circle cx="120" cy="536.14" r="1.7" fill="#2a22ff"/>
<line x1="115.75" y1="530.22" x2="124.25" y2="530.22" stroke="#1a1a1a" stroke-width="1.4"/>
<circle cx="144.4" cy="550.98" r="1.7" fill="#70ffff"/>
<circle cx="141.9" cy="563.8" r="1.7" fill="#70ffff"/>
<circle cx="146.7" cy="562.59" r="1.7" fill="#70ffff"/>
<line x1="140.15" y1="559.1" x2="148.65" y2="559.1" stroke="#1a1a1a" stroke-width="1.4"/>
<text transform="translate(234.16 452.9)" font-size="15.6" font-weight="bold" text-anchor="start" fill="#000">H</text>
<text transform="translate(335.2 449.9)" font-size="11.55" font-weight="bold" text-anchor="start" fill="#111">BT474 - Spheres</text>
<line x1="291.3" y1="492.8" x2="291.3" y2="613.4" stroke="#222" stroke-width="1.35"/>
<line x1="286.9" y1="612.8" x2="291.3" y2="612.8" stroke="#222" stroke-width="1.35"/>
<text transform="translate(284.9 616.32) scale(1 1.08)" font-size="9.1" font-weight="bold" text-anchor="end" fill="#111">0</text>
<line x1="286.9" y1="582.95" x2="291.3" y2="582.95" stroke="#222" stroke-width="1.35"/>
<text transform="translate(284.9 586.47) scale(1 1.08)" font-size="9.1" font-weight="bold" text-anchor="end" fill="#111">20</text>
<line x1="286.9" y1="553.1" x2="291.3" y2="553.1" stroke="#222" stroke-width="1.35"/>
<text transform="translate(284.9 556.62) scale(1 1.08)" font-size="9.1" font-weight="bold" text-anchor="end" fill="#111">40</text>
<line x1="286.9" y1="523.25" x2="291.3" y2="523.25" stroke="#222" stroke-width="1.35"/>
<text transform="translate(284.9 526.77) scale(1 1.08)" font-size="9.1" font-weight="bold" text-anchor="end" fill="#111">60</text>
<line x1="286.9" y1="493.4" x2="291.3" y2="493.4" stroke="#222" stroke-width="1.35"/>
<text transform="translate(284.9 496.92) scale(1 1.08)" font-size="9.1" font-weight="bold" text-anchor="end" fill="#111">80</text>
<line x1="290.7" y1="612.8" x2="470.9" y2="612.8" stroke="#222" stroke-width="1.4"/>
<line x1="337.9" y1="612.8" x2="337.9" y2="617.8" stroke="#222" stroke-width="1.4"/>
<text transform="translate(337.9 626.9)" font-size="9.5" font-weight="bold" text-anchor="middle" fill="#111">NT</text>
<line x1="424" y1="612.8" x2="424" y2="617.8" stroke="#222" stroke-width="1.4"/>
<text transform="translate(424 626.9)" font-size="9.5" font-weight="bold" text-anchor="middle" fill="#111">CM</text>
<text transform="translate(269.4 553.55) rotate(-90) scale(1 0.88)" font-size="10.1" font-weight="bold" text-anchor="middle" fill="#111"># of spheres/2000 cells</text>
<line x1="305.9" y1="568.92" x2="305.9" y2="575.64" stroke="#333" stroke-width="1"/>
<line x1="305.9" y1="593.85" x2="305.9" y2="596.23" stroke="#333" stroke-width="1"/>
<rect x="298.9" y="575.64" width="14" height="18.21" fill="#4a3af5" stroke="#333" stroke-width="1"/>
<line x1="298.9" y1="589.67" x2="312.9" y2="589.67" stroke="#222" stroke-width="1"/>
<line x1="302.4" y1="568.92" x2="309.4" y2="568.92" stroke="#222" stroke-width="1"/>
<line x1="302.4" y1="596.23" x2="309.4" y2="596.23" stroke="#222" stroke-width="1"/>
<circle cx="305.9" cy="568.92" r="1.5" fill="#000"/>
<circle cx="305.9" cy="582.2" r="1.5" fill="#000"/>
<circle cx="305.9" cy="589.67" r="1.5" fill="#000"/>
<circle cx="305.9" cy="592.65" r="1.5" fill="#000"/>
<circle cx="305.9" cy="596.23" r="1.5" fill="#000"/>
<line x1="327.7" y1="555.34" x2="327.7" y2="565.34" stroke="#333" stroke-width="1"/>
<line x1="327.7" y1="595.04" x2="327.7" y2="595.04" stroke="#333" stroke-width="1"/>
<rect x="320.7" y="565.34" width="14" height="29.7" fill="#88ffff" stroke="#333" stroke-width="1"/>
<line x1="320.7" y1="589.67" x2="334.7" y2="589.67" stroke="#222" stroke-width="1"/>
<line x1="324.2" y1="555.34" x2="331.2" y2="555.34" stroke="#222" stroke-width="1"/>
<line x1="324.2" y1="595.04" x2="331.2" y2="595.04" stroke="#222" stroke-width="1"/>
<circle cx="327.7" cy="555.34" r="1.5" fill="#000"/>
<circle cx="327.7" cy="574.89" r="1.5" fill="#000"/>
<circle cx="327.7" cy="589.67" r="1.5" fill="#000"/>
<circle cx="324.9" cy="595.04" r="1.5" fill="#000"/>
<circle cx="330.3" cy="594.14" r="1.5" fill="#000"/>
<line x1="348.5" y1="576.53" x2="348.5" y2="586.23" stroke="#333" stroke-width="1"/>
<line x1="348.5" y1="598.62" x2="348.5" y2="601.01" stroke="#333" stroke-width="1"/>
<rect x="341.5" y="586.23" width="14" height="12.39" fill="#55f838" stroke="#333" stroke-width="1"/>
<line x1="341.5" y1="595.49" x2="355.5" y2="595.49" stroke="#222" stroke-width="1"/>
<line x1="345" y1="576.53" x2="352" y2="576.53" stroke="#222" stroke-width="1"/>
<line x1="345" y1="601.01" x2="352" y2="601.01" stroke="#222" stroke-width="1"/>
<circle cx="348.5" cy="576.53" r="1.5" fill="#000"/>
<circle cx="346.5" cy="595.49" r="1.5" fill="#000"/>
<circle cx="351.5" cy="595.49" r="1.5" fill="#000"/>
<circle cx="348.5" cy="598.62" r="1.5" fill="#000"/>
<circle cx="346.5" cy="601.01" r="1.5" fill="#000"/>
<line x1="370.7" y1="589.07" x2="370.7" y2="590.71" stroke="#333" stroke-width="1"/>
<line x1="370.7" y1="599.82" x2="370.7" y2="603.25" stroke="#333" stroke-width="1"/>
<rect x="363.7" y="590.71" width="14" height="9.1" fill="#f04040" stroke="#333" stroke-width="1"/>
<line x1="363.7" y1="595.04" x2="377.7" y2="595.04" stroke="#222" stroke-width="1"/>
<line x1="367.2" y1="589.07" x2="374.2" y2="589.07" stroke="#222" stroke-width="1"/>
<line x1="367.2" y1="603.25" x2="374.2" y2="603.25" stroke="#222" stroke-width="1"/>
<circle cx="368.7" cy="589.07" r="1.5" fill="#000"/>
<circle cx="368.2" cy="591.46" r="1.5" fill="#000"/>
<circle cx="366.7" cy="595.04" r="1.5" fill="#000"/>
<circle cx="372.7" cy="597.13" r="1.5" fill="#000"/>
<circle cx="370.7" cy="603.25" r="1.5" fill="#000"/>
<line x1="391.7" y1="502.06" x2="391.7" y2="523.4" stroke="#333" stroke-width="1"/>
<line x1="391.7" y1="563.7" x2="391.7" y2="567.73" stroke="#333" stroke-width="1"/>
<rect x="384.7" y="523.4" width="14" height="40.3" fill="#4a3af5" stroke="#333" stroke-width="1"/>
<line x1="384.7" y1="552.35" x2="398.7" y2="552.35" stroke="#222" stroke-width="1"/>
<line x1="388.2" y1="502.06" x2="395.2" y2="502.06" stroke="#222" stroke-width="1"/>
<line x1="388.2" y1="567.73" x2="395.2" y2="567.73" stroke="#222" stroke-width="1"/>
<circle cx="391.7" cy="502.06" r="1.5" fill="#000"/>
<circle cx="391.7" cy="543.4" r="1.5" fill="#000"/>
<circle cx="391.7" cy="552.35" r="1.5" fill="#000"/>
<circle cx="391.7" cy="562.35" r="1.5" fill="#000"/>
<circle cx="391.7" cy="567.73" r="1.5" fill="#000"/>
<line x1="413.3" y1="523.85" x2="413.3" y2="532.5" stroke="#333" stroke-width="1"/>
<line x1="413.3" y1="566.53" x2="413.3" y2="569.52" stroke="#333" stroke-width="1"/>
<rect x="406.3" y="532.5" width="14" height="34.03" fill="#88ffff" stroke="#333" stroke-width="1"/>
<line x1="406.3" y1="547.43" x2="420.3" y2="547.43" stroke="#222" stroke-width="1"/>
<line x1="409.8" y1="523.85" x2="416.8" y2="523.85" stroke="#222" stroke-width="1"/>
<line x1="409.8" y1="569.52" x2="416.8" y2="569.52" stroke="#222" stroke-width="1"/>
<circle cx="413.3" cy="523.85" r="1.5" fill="#000"/>
<circle cx="413.3" cy="540.41" r="1.5" fill="#000"/>
<circle cx="413.3" cy="547.43" r="1.5" fill="#000"/>
<circle cx="413.3" cy="565.79" r="1.5" fill="#000"/>
<circle cx="413.3" cy="569.52" r="1.5" fill="#000"/>
<line x1="434.7" y1="549.07" x2="434.7" y2="549.07" stroke="#333" stroke-width="1"/>
<line x1="434.7" y1="582.2" x2="434.7" y2="593.55" stroke="#333" stroke-width="1"/>
<rect x="427.7" y="549.07" width="14" height="33.13" fill="#55f838" stroke="#333" stroke-width="1"/>
<line x1="427.7" y1="553.85" x2="441.7" y2="553.85" stroke="#222" stroke-width="1"/>
<line x1="431.2" y1="549.07" x2="438.2" y2="549.07" stroke="#222" stroke-width="1"/>
<line x1="431.2" y1="593.55" x2="438.2" y2="593.55" stroke="#222" stroke-width="1"/>
<circle cx="433.2" cy="548.77" r="1.5" fill="#000"/>
<circle cx="437.2" cy="549.52" r="1.5" fill="#000"/>
<circle cx="434.7" cy="553.85" r="1.5" fill="#000"/>
<circle cx="434.7" cy="572.35" r="1.5" fill="#000"/>
<circle cx="434.7" cy="593.55" r="1.5" fill="#000"/>
<line x1="456.5" y1="559.52" x2="456.5" y2="567.13" stroke="#333" stroke-width="1"/>
<line x1="456.5" y1="598.47" x2="456.5" y2="603.55" stroke="#333" stroke-width="1"/>
<rect x="449.5" y="567.13" width="14" height="31.34" fill="#f04040" stroke="#333" stroke-width="1"/>
<line x1="449.5" y1="590.26" x2="463.5" y2="590.26" stroke="#222" stroke-width="1"/>
<line x1="453" y1="559.52" x2="460" y2="559.52" stroke="#222" stroke-width="1"/>
<line x1="453" y1="603.55" x2="460" y2="603.55" stroke="#222" stroke-width="1"/>
<circle cx="456.5" cy="559.52" r="1.5" fill="#000"/>
<circle cx="456.5" cy="574.74" r="1.5" fill="#000"/>
<circle cx="456.5" cy="590.26" r="1.5" fill="#000"/>
<circle cx="456.5" cy="594.29" r="1.5" fill="#000"/>
<circle cx="456.5" cy="603.55" r="1.5" fill="#000"/>
<line x1="392.2" y1="500.3" x2="415.5" y2="500.3" stroke="#555" stroke-width="1"/>
<line x1="392.2" y1="486" x2="434.8" y2="486" stroke="#555" stroke-width="1"/>
<line x1="392.2" y1="470.8" x2="456.7" y2="470.8" stroke="#555" stroke-width="1"/>
<text transform="translate(403.3 494.9)" font-size="8.4" font-weight="normal" text-anchor="middle" fill="#333">1</text>
<text transform="translate(413.2 480.2)" font-size="8.4" font-weight="normal" text-anchor="middle" fill="#333">0.344</text>
<text transform="translate(424.2 465.7)" font-size="8.4" font-weight="normal" text-anchor="middle" fill="#333">0.002</text>
<rect x="498.3" y="498.2" width="12" height="6.4" fill="#4a3af5" stroke="#333" stroke-width="0.9"/>
<text transform="translate(517.4 504.8)" font-size="9.9" font-weight="normal" text-anchor="start" fill="#222">siCtr</text>
<rect x="498.3" y="514.1" width="12" height="6.4" fill="#88ffff" stroke="#333" stroke-width="0.9"/>
<text transform="translate(517.4 520.7)" font-size="9.9" font-weight="normal" text-anchor="start" fill="#222">siER</text>
<rect x="498.3" y="530" width="12" height="6.4" fill="#55f838" stroke="#333" stroke-width="0.9"/>
<text transform="translate(517.4 536.6)" font-size="9.9" font-weight="normal" text-anchor="start" fill="#222">siHER2</text>
<rect x="498.3" y="545.9" width="12" height="6.4" fill="#f04040" stroke="#333" stroke-width="0.9"/>
<text transform="translate(517.4 552.5)" font-size="9.9" font-weight="normal" text-anchor="start" fill="#222">siER+siHER2</text>
</svg>
</body></html>
